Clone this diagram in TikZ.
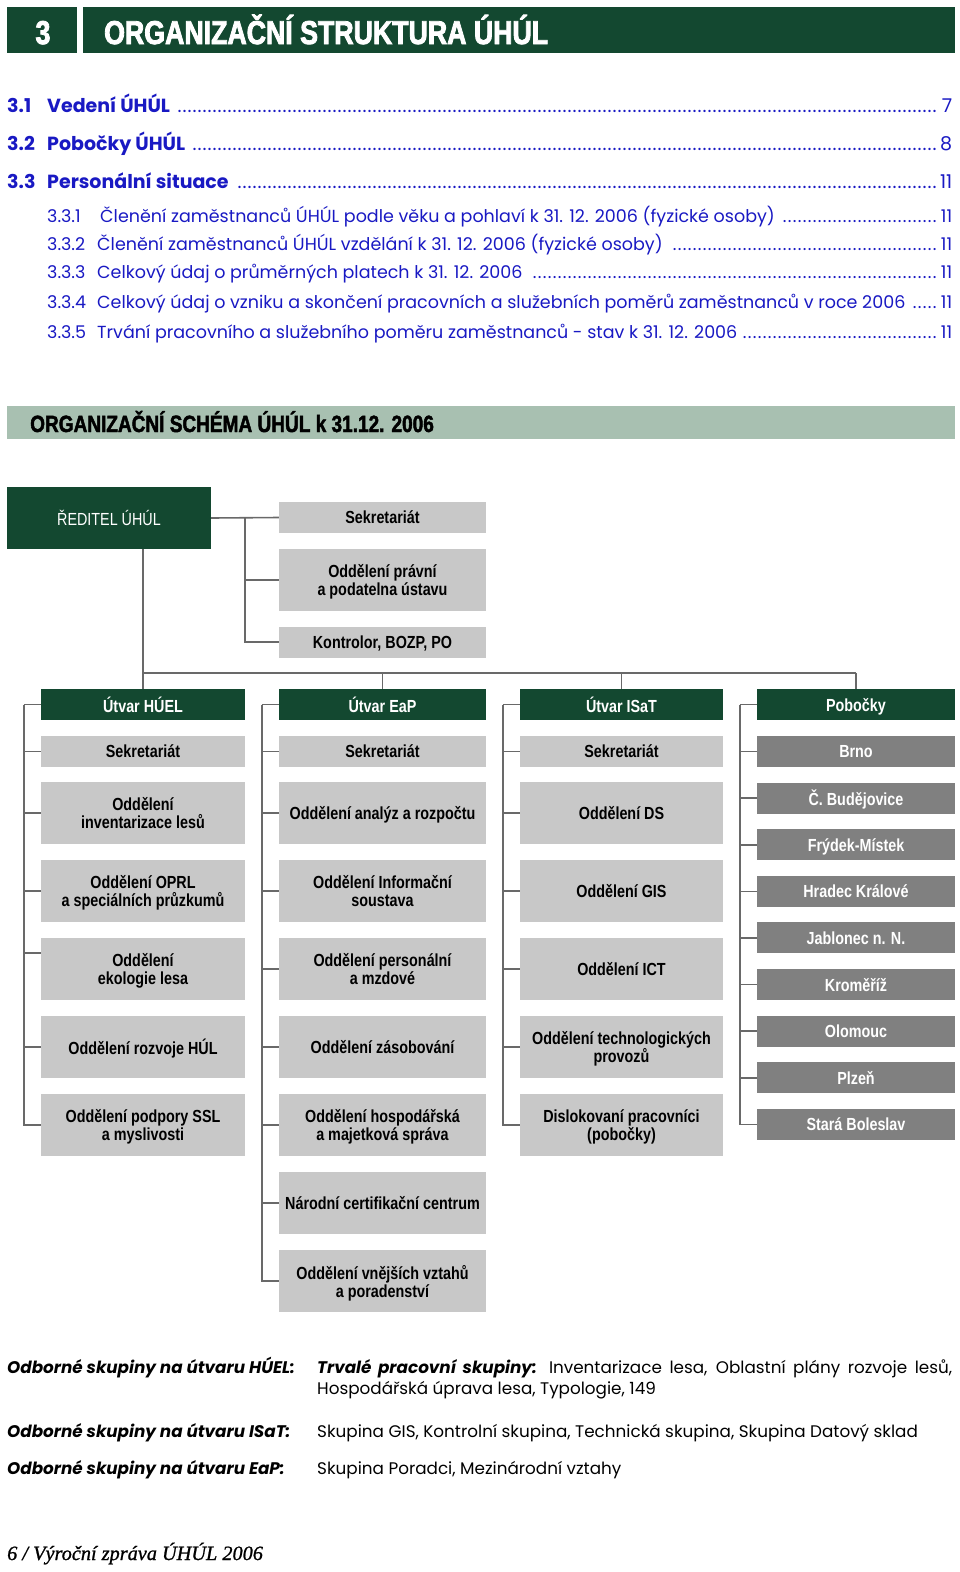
\documentclass[tikz,border=0pt]{standalone}
\usepackage{fontspec}
\setmainfont{Liberation Sans}
\newfontfamily\orgfont[FakeStretch=0.82]{Liberation Sans}
\newfontfamily\titlefont[FakeStretch=0.81,FakeBold=2.5]{Liberation Sans}
\newfontfamily\bannerfont[FakeStretch=0.81,FakeBold=2]{Liberation Sans}
\newfontfamily\tocfont{Poppins}
\newfontfamily\footfont[FakeBold=1]{Liberation Serif}
\usetikzlibrary{positioning}

\definecolor{uhulgreen}{RGB}{19,72,48}
\definecolor{uhulpale}{RGB}{168,192,177}
\definecolor{uhulgray}{RGB}{200,200,200}
\definecolor{uhuldark}{RGB}{128,128,128}
\definecolor{uhulline}{RGB}{105,105,105}
\definecolor{tocblue}{RGB}{25,25,195}

\newcommand\tocdots{\leaders\hbox to 5pt{\hss.\hss}\hfill}

\begin{document}
\begin{tikzpicture}[x=1pt,y=-1pt,
    box/.style={inner sep=0pt, minimum height=31pt, align=center, text depth=0pt,
      font=\orgfont\bfseries\fontsize{17.5}{18}\selectfont},
    head/.style={box, fill=uhulgreen, text=white},
    cell/.style={box, fill=uhulgray},
    tall/.style={cell, minimum height=62pt},
    branch/.style={box, fill=uhuldark, text=white},
    conn/.style={draw=uhulline, line width=1.6pt},
    tocmain/.style={anchor=base west, inner sep=0pt, text=tocblue,
      font=\tocfont\bfseries\fontsize{19}{19}\selectfont},
    tocsub/.style={anchor=base west, inner sep=0pt, text=tocblue,
      font=\tocfont\fontsize{17.5}{17.5}\selectfont},
    skup/.style={anchor=base west, inner sep=0pt,
      font=\tocfont\fontsize{16.8}{21}\selectfont}]
  \useasboundingbox (0,0) rectangle (960,1572);

  % Chapter header
  \fill[uhulgreen] (7,7) rectangle (955,53);
  \fill[white] (77,7) rectangle (83,53);
  \node[anchor=base, inner sep=0pt, text=white,
    font=\titlefont\bfseries\fontsize{33}{33}\selectfont] (chnum) at (43,44) {3};
  \node[anchor=base west, inner sep=0pt, text=white,
    font=\titlefont\bfseries\fontsize{33}{33}\selectfont] (chtitle) at (104,44) {ORGANIZAČNÍ STRUKTURA ÚHÚL};

  % Contents
  \node[tocmain] (t31) at (7,112) {\hbox to 945pt{\makebox[40pt][l]{3.1}Vedení ÚHÚL {\mdseries\tocdots 7}}};
  \node[tocmain] (t32) at (7,150) {\hbox to 945pt{\makebox[40pt][l]{3.2}Pobočky ÚHÚL {\mdseries\tocdots 8}}};
  \node[tocmain] (t33) at (7,188) {\hbox to 945pt{\makebox[40pt][l]{3.3}Personální situace {\mdseries\tocdots 11}}};
  \node[tocsub] (t331) at (47,222) {\hbox to 905pt{\makebox[53pt][l]{3.3.1}Členění zaměstnanců ÚHÚL podle věku a pohlaví k 31. 12. 2006 (fyzické osoby)\ \tocdots 11}};
  \node[tocsub] (t332) at (47,250) {\hbox to 905pt{\makebox[50pt][l]{3.3.2}Členění zaměstnanců ÚHÚL vzdělání k 31. 12. 2006 (fyzické osoby)\ \tocdots 11}};
  \node[tocsub] (t333) at (47,278) {\hbox to 905pt{\makebox[50pt][l]{3.3.3}Celkový údaj o průměrných platech k 31. 12. 2006\ \tocdots 11}};
  \node[tocsub] (t334) at (47,308) {\hbox to 905pt{\makebox[50pt][l]{3.3.4}Celkový údaj o vzniku a skončení pracovních a služebních poměrů zaměstnanců v roce 2006\ \tocdots 11}};
  \node[tocsub] (t335) at (47,338) {\hbox to 905pt{\makebox[50pt][l]{3.3.5}Trvání pracovního a služebního poměru zaměstnanců - stav k 31. 12. 2006\tocdots 11}};

  % Banner
  \fill[uhulpale] (7,406) rectangle (955,439);
  \node[anchor=base west, inner sep=0pt,
    font=\bannerfont\bfseries\fontsize{23.5}{23.5}\selectfont] (schema) at (30,432) {ORGANIZAČNÍ SCHÉMA ÚHÚL k 31.12. 2006};

  % Director and staff units
  \node[head, font=\orgfont\fontsize{17.5}{18}\selectfont, minimum width=204pt, minimum height=62pt] (red) at (109,518) {ŘEDITEL ÚHÚL};
  \node[cell, minimum width=207pt] (tsek) at (382.5,517.5) {Sekretariát};
  \node[tall, minimum width=207pt] (tprav) at (382.5,580) {Oddělení právní\\a podatelna ústavu};
  \node[cell, minimum width=207pt] (tkon) at (382.5,642) {Kontrolor, BOZP, PO};
  \coordinate (tsp) at ([xshift=34pt]red.east);
  \draw[conn] (red.east) -- (tsek.west);
  \draw[conn] (tsp) |- (tprav.west);
  \draw[conn] (tsp) |- (tkon.west);

  % Division heads
  \node[head, minimum width=204pt] (ah) at (143,704.5) {Útvar HÚEL};
  \node[head, minimum width=207pt] (bh) at (382.5,704.5) {Útvar EaP};
  \node[head, minimum width=203pt] (ch) at (621.5,704.5) {Útvar ISaT};
  \node[head, minimum width=198pt] (dh) at (856,704.5) {Pobočky};

  % Bus from director
  \draw[conn] (red.south -| ah.north) -- (ah.north);
  \path (ah.north) ++(0,-16) coordinate (bus);
  \draw[conn] (bus) -- (bus -| dh.north);
  \foreach \k in {b,c,d}
    \draw[conn] (bus -| \k h.north) -- (\k h.north);

  % Secretariats
  \node[cell, minimum width=204pt] (a0) at (143,751.5) {Sekretariát};
  \node[cell, minimum width=207pt] (b0) at (382.5,751.5) {Sekretariát};
  \node[cell, minimum width=203pt] (c0) at (621.5,751.5) {Sekretariát};

  % Departments
  \foreach \t [count=\i] in {{Oddělení\\inventarizace lesů}, {Oddělení OPRL\\a speciálních průzkumů},
      {Oddělení\\ekologie lesa}, {Oddělení rozvoje HÚL}, {Oddělení podpory SSL\\a myslivosti}}
    \node[tall, minimum width=204pt] (a\i) at (143,{813+78*(\i-1)}) {\t};
  \foreach \t [count=\i] in {{Oddělení analýz a rozpočtu}, {Oddělení Informační\\soustava},
      {Oddělení personální\\a mzdové}, {Oddělení zásobování}, {Oddělení hospodářská\\a majetková správa},
      {Národní certifikační centrum}, {Oddělení vnějších vztahů\\a poradenství}}
    \node[tall, minimum width=207pt] (b\i) at (382.5,{813+78*(\i-1)}) {\t};
  \foreach \t [count=\i] in {{Oddělení DS}, {Oddělení GIS}, {Oddělení ICT},
      {Oddělení technologických\\provozů}, {Dislokovaní pracovníci\\(pobočky)}}
    \node[tall, minimum width=203pt] (c\i) at (621.5,{813+78*(\i-1)}) {\t};

  % Branches
  \foreach \t [count=\i] in {Brno, Č. Budějovice, Frýdek-Místek, Hradec Králové,
      Jablonec n. N., Kroměříž, Olomouc, Plzeň, Stará Boleslav}
    \node[branch, minimum width=198pt] (d\i) at (856,{751.5+46.6*(\i-1)}) {\t};

  % Column spines
  \foreach \k in {a,b,c,d} {
    \coordinate (\k sp) at ([xshift=-17pt]\k h.west);
    \draw[conn] (\k sp) -- (\k h.west);
  }
  \foreach \i in {0,1,2,4,5}
    \draw[conn] (asp) |- (a\i.west);
  \draw[conn] (asp) |- ([yshift=16pt]a3.west);
  \foreach \i in {0,...,7}
    \draw[conn] (bsp) |- (b\i.west);
  \foreach \i in {0,...,5}
    \draw[conn] (csp) |- (c\i.west);
  \foreach \i in {1,...,9}
    \draw[conn] (dsp) |- (d\i.west);

  % Expert groups
  \node[skup] (sha) at (7,1373) {\bfseries\itshape Odborné skupiny na útvaru HÚEL:};
  \node[skup, text width=635pt, align=justify] (shatxt) at (317,1373) {{\bfseries\itshape Trvalé pracovní skupiny:} Inventarizace lesa, Oblastní plány rozvoje lesů,\linebreak Hospodářská úprava lesa, Typologie, 149};
  \node[skup] (shc) at (7,1437) {\bfseries\itshape Odborné skupiny na útvaru ISaT:};
  \node[skup] (shctxt) at (317,1437) {Skupina GIS, Kontrolní skupina, Technická skupina, Skupina Datový sklad};
  \node[skup] (shb) at (7,1474) {\bfseries\itshape Odborné skupiny na útvaru EaP:};
  \node[skup] (shbtxt) at (317,1474) {Skupina Poradci, Mezinárodní vztahy};

  % Footer
  \node[anchor=base west, inner sep=0pt,
    font=\footfont\itshape\fontsize{20.3}{20.3}\selectfont] (foot) at (7,1560) {6 / Výroční zpráva ÚHÚL 2006};
\end{tikzpicture}
\end{document}
